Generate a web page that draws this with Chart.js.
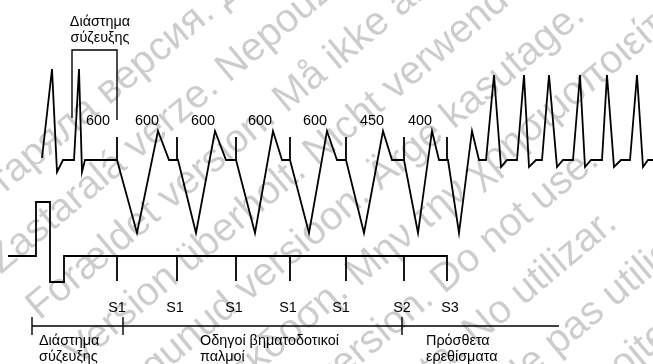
<!DOCTYPE html>
<html>
<head>
<meta charset="utf-8">
<script src="https://cdn.jsdelivr.net/npm/chart.js@4.4.1/dist/chart.umd.min.js"></script>
<style>
html,body{margin:0;padding:0;background:#fff;}
#c{display:block;}
</style>
</head>
<body>
<canvas id="c" width="653" height="364"></canvas>
<script>
// ---- data (x: time axis, y: vertical position, downwards) ----
const ecgX = [42,52,57,63,74,79,82,85,117,
  137,158,169,178, 196,215,226,236, 255,273,282,290, 309,327,337,346,
  364,383,392,404, 418,432,439,448, 459,472,479,486,
  494,501,507,517, 524,529,536,542, 549,557,563,573, 580,585,591,602,
  607,614,621,630, 637,643,648,653];
const ecgY = [158,69,172,160,160,69,172,160,160,
  233,131,160,160, 233,131,160,160, 233,131,160,160, 233,131,160,160,
  233,131,160,160, 233,131,160,160, 233,131,160,160,
  75,167,160,160, 75,167,160,160, 75,167,160,160, 75,167,160,160,
  75,167,160,160, 75,167,160,160];
const stimTimes = [117,177,236,290,346,404,447];
const spikeTop = 137, ecgBase = 160;
const stimBase = 256, stimTick = 281;
const stimLeadX = [8,36,36,50,50,64,64];
const stimLeadY = [256,256,202,202,282,282,256];
const bracketX = [72,72,117,117];
const bracketY = [118,50,50,120];
const timelineTicks = [32,123,402];
const timelineStart = 32, timelineEnd = 559, timelineY = 326, timelineTickTop = 317, timelineTickBottom = 335;

const intervalLabels = ['600','600','600','600','600','450','400'];
const intervalLabelX = [98,147,203,260,315,372,420];
const pulseLabels = ['S1','S1','S1','S1','S1','S2','S3'];
const pulseLabelX = [117,175,234,288,341,402,450];
const topCaption = ['Διάστημα','σύζευξης'];
const bottomCaptions = [
  {x:39, lines:['Διάστημα','σύζευξης']},
  {x:200, lines:['Οδηγοί βηματοδοτικοί','παλμοί']},
  {x:426, lines:['Πρόσθετα','ερεθίσματα']}
];
const watermarkLines = [
  'Остаряла версия. Да не се използва.',
  'Zastaralá verze. Nepoužívat.',
  'Forældet version. Må ikke anvendes.',
  'Version überholt. Nicht verwenden.',
  'Aegunud versioon. Ärge kasutage.',
  'Παλιά έκδοση. Μην την χρησιμοποιείτε.',
  'Outdated version. Do not use.',
  'Versión obsoleta. No utilizar.',
  'Version périmée. Ne pas utiliser.',
  'Zastarjela verzija. Nemojte upotrebljavati.',
  'Versione obsoleta. Non utilizzare.',
  'Novecojusi versija. Neizmantot.',
  'Pasenusi versija. Nenaudokite.',
  'Elavult verzió. Ne használja!'
];

// ---- build line data ----
const pts = (xs, ys) => xs.map((x,i)=>({x, y: ys[i]}));
const ecgData = pts(ecgX, ecgY);
const spikeData = [];
stimTimes.forEach(t => { spikeData.push({x:t,y:ecgBase},{x:t,y:spikeTop},{x:t,y:null}); });
const stimData = pts(stimLeadX, stimLeadY);
stimTimes.forEach(t => { stimData.push({x:t,y:stimBase},{x:t,y:stimTick},{x:t,y:stimBase}); });
stimData.pop();
const timelineData = [{x:timelineStart,y:timelineY},{x:timelineEnd,y:timelineY},{x:timelineEnd,y:null}];
timelineTicks.forEach(t => { timelineData.push({x:t,y:timelineTickTop},{x:t,y:timelineTickBottom},{x:t,y:null}); });
const bracketData = pts(bracketX, bracketY);

const FONT = '14.4px "Liberation Sans", Arial, sans-serif';

const wmPlugin = {
  id: 'wm',
  beforeDatasetsDraw(chart) {
    const ctx = chart.ctx;
    ctx.save();
    ctx.font = '40px "Liberation Sans", Arial, sans-serif';
    ctx.fillStyle = 'rgba(0,0,0,0.2)';
    ctx.textBaseline = 'middle';
    ctx.textAlign = 'left';
    ctx.rotate(-40 * Math.PI / 180);
    watermarkLines.forEach((s, k) => {
      ctx.fillText(s, -176, 140 + k * 60);
    });
    ctx.restore();
  }
};

const textPlugin = {
  id: 'txt',
  afterDatasetsDraw(chart) {
    const ctx = chart.ctx, xs = chart.scales.x, ys = chart.scales.y;
    ctx.save();
    ctx.font = FONT;
    ctx.fillStyle = '#000';
    ctx.textBaseline = 'alphabetic';
    ctx.textAlign = 'center';
    topCaption.forEach((s,i) => ctx.fillText(s, xs.getPixelForValue(100), ys.getPixelForValue(26 + i*16)));
    intervalLabels.forEach((s,i) => ctx.fillText(s, xs.getPixelForValue(intervalLabelX[i]), ys.getPixelForValue(125)));
    pulseLabels.forEach((s,i) => ctx.fillText(s, xs.getPixelForValue(pulseLabelX[i]), ys.getPixelForValue(312)));
    ctx.textAlign = 'left';
    bottomCaptions.forEach(c => c.lines.forEach((s,i) => ctx.fillText(s, xs.getPixelForValue(c.x), ys.getPixelForValue(345 + i*16))));
    ctx.restore();
  }
};

const lineDs = (data, w) => ({data, showLine:true, pointRadius:0, pointHoverRadius:0, borderColor:'#000', borderWidth:w, tension:0, spanGaps:false, borderJoinStyle:'miter', borderCapStyle:'butt', fill:false});

new Chart(document.getElementById('c'), {
  type: 'scatter',
  data: { datasets: [
    lineDs(ecgData, 1.8),
    lineDs(spikeData, 1.8),
    lineDs(stimData, 1.8),
    lineDs(timelineData, 1.4),
    lineDs(bracketData, 1.4)
  ]},
  options: {
    responsive:false, animation:false, devicePixelRatio:1,
    layout:{padding:0, autoPadding:false},
    plugins:{legend:{display:false}, tooltip:{enabled:false}},
    events:[],
    scales:{
      x:{type:'linear', min:0, max:653, display:false},
      y:{type:'linear', min:0, max:364, reverse:true, display:false}
    }
  },
  plugins:[wmPlugin, textPlugin]
});
</script>
</body>
</html>
